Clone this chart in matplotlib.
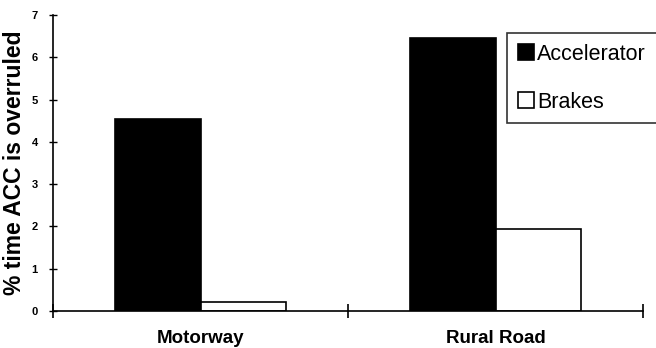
import matplotlib
matplotlib.use("Agg")
import matplotlib.pyplot as plt
import numpy as np

plt.rcParams['font.family'] = ['Liberation Sans', 'DejaVu Sans']

categories = ["Motorway", "Rural Road"]
series_names = ["Accelerator", "Brakes"]
accelerator = [4.55, 6.45]
brakes = [0.22, 1.93]
y_ticks = [0, 1, 2, 3, 4, 5, 6, 7]

fig = plt.figure(figsize=(6.56, 3.48), dpi=100)
ax = fig.add_axes([0.0808, 0.1063, 0.8994, 0.8506])

x = np.arange(len(categories))
w = 0.29
ax.bar(x - w / 2, accelerator, width=w, color="black", edgecolor="black",
       linewidth=1.2, label=series_names[0])
ax.bar(x + w / 2, brakes, width=w, color="white", edgecolor="black",
       linewidth=1.2, label=series_names[1])

ax.set_xlim(-0.5, len(categories) - 0.5)
ax.set_ylim(0, 7)

ax.spines['top'].set_visible(False)
ax.spines['right'].set_visible(False)
for s in ('left', 'bottom'):
    ax.spines[s].set_linewidth(1.2)

ax.set_yticks(y_ticks)
ax.set_yticklabels([str(v) for v in y_ticks], fontsize=8, fontweight='bold')
ax.tick_params(axis='y', direction='inout', length=6, width=1.0, pad=8)

ax.set_xticks(x)
ax.set_xticklabels(categories, fontsize=13.5, fontweight='bold')
ax.tick_params(axis='x', which='major', length=0, pad=14)
ax.set_xticks(np.arange(len(categories) + 1) - 0.5, minor=True)
ax.tick_params(axis='x', which='minor', direction='inout', length=10, width=1.2)

ax.set_ylabel("% time ACC is overruled", fontsize=16.5, fontweight='bold')
ax.yaxis.set_label_coords(-0.046, 0.5)

leg = ax.legend(loc='upper left', bbox_to_anchor=(0.773, 0.905),
                bbox_transform=fig.transFigure, borderaxespad=0,
                fontsize=15.5, frameon=True, fancybox=False, shadow=False,
                handlelength=0.75, handleheight=0.75, handletextpad=0.15,
                borderpad=0.5, labelspacing=1.25)
leg.get_frame().set_edgecolor('black')
leg.get_frame().set_linewidth(1.2)

fig.savefig("out.png", dpi=100)
